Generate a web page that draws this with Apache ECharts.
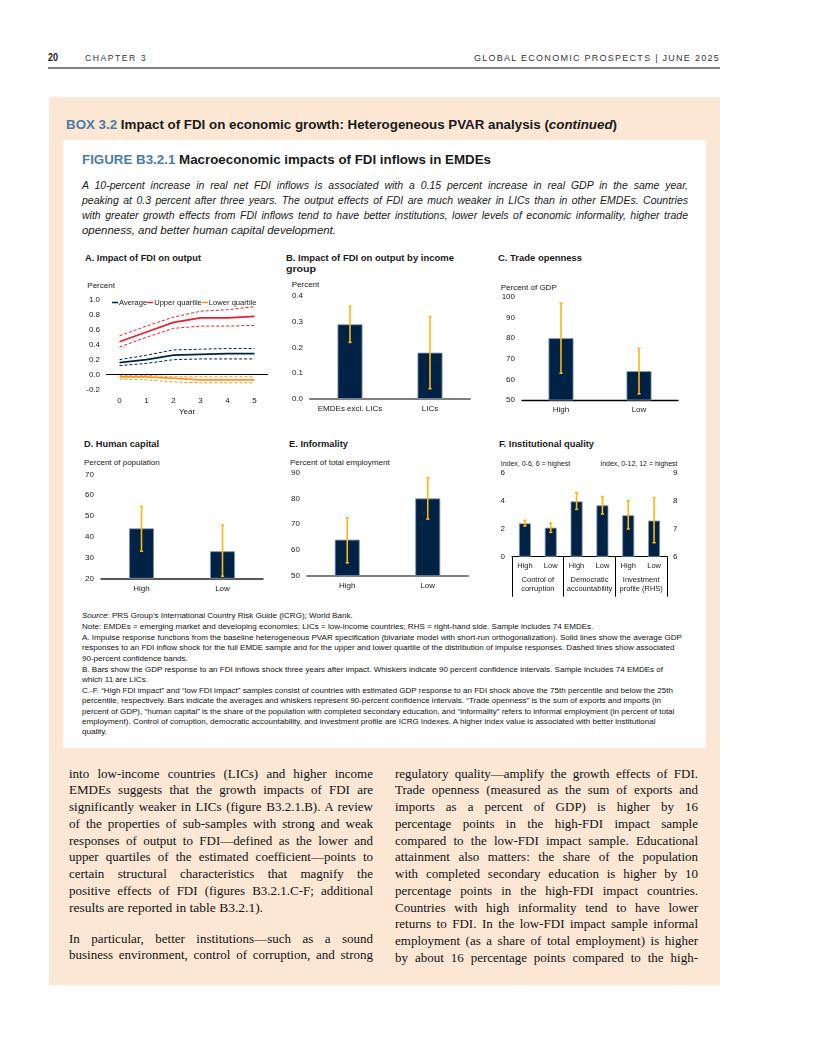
<!DOCTYPE html>
<html><head><meta charset="utf-8">
<script src="https://cdn.jsdelivr.net/npm/echarts@6/dist/echarts.min.js"></script>
<style>
html,body{margin:0;padding:0;background:#fff;}
#page{width:816px;height:1056px;position:relative;overflow:hidden;font-family:'Liberation Sans',Arial,sans-serif;color:#1a1a1a;}
.t{position:absolute;white-space:nowrap;line-height:1;}
#peach{position:absolute;left:49px;top:97px;width:671px;height:888px;background:#FCE7D5;}
#panel{position:absolute;left:63px;top:140px;width:643px;height:608px;background:#fff;}
#rule{position:absolute;left:48px;top:67px;width:672px;height:1.5px;background:#7f7f7f;}
#chart{position:absolute;left:0;top:0;width:816px;height:1056px;z-index:5;}
.blue{color:#4A7BAA;}
</style></head>
<body>
<div id="page">
<div id="peach"></div>
<div id="panel"></div>
<div id="rule"></div>
<div id="chart"></div>
</div>
<script>
// ---------------- DATA ----------------
// Panel A: impulse responses
const aYears = ['0', '1', '2', '3', '4', '5'];
const aAverage   = [0.16, 0.20, 0.26, 0.27, 0.28, 0.28];
const aAverageHi = [0.20, 0.26, 0.33, 0.34, 0.35, 0.35];
const aAverageLo = [0.12, 0.15, 0.20, 0.21, 0.21, 0.21];
const aUpper     = [0.44, 0.57, 0.70, 0.76, 0.76, 0.78];
const aUpperHi   = [0.52, 0.65, 0.77, 0.85, 0.87, 0.91];
const aUpperLo   = [0.37, 0.50, 0.62, 0.65, 0.65, 0.66];
const aLower     = [-0.03, -0.03, -0.05, -0.07, -0.07, -0.07];
const aLowerHi   = [-0.01, -0.01, -0.03, -0.03, -0.03, -0.03];
const aLowerLo   = [-0.06, -0.07, -0.10, -0.11, -0.11, -0.11];
const aLegend = ['Average', 'Upper quartile', 'Lower quartile'];
// Panel B
const bCategories = ['EMDEs excl. LICs', 'LICs'];
const bValues = [0.29, 0.18];
const bLow  = [0.22, 0.04];
const bHigh = [0.36, 0.32];
// Panel C
const cCategories = ['High', 'Low'];
const cValues = [80, 64];
const cLow  = [63, 53];
const cHigh = [97, 75];
// Panel D
const dCategories = ['High', 'Low'];
const dValues = [44, 33];
const dLow  = [33, 21];
const dHigh = [54.5, 45.5];
// Panel E
const eCategories = ['High', 'Low'];
const eValues = [64, 80];
const eLow  = [55, 72];
const eHigh = [72.5, 88];
// Panel F
const fCategories = ['High', 'Low', 'High', 'Low', 'High', 'Low'];
const fGroups = ['Control of\ncorruption', 'Democratic\naccountability', 'Investment\nprofile (RHS)'];
const fLeftValues  = [2.38, 2.07, 3.95, 3.67, '-', '-'];
const fLeftLow     = [2.19, 1.74, 3.38, 3.05];
const fLeftHigh    = [2.60, 2.40, 4.57, 4.29];
const fRightValues = ['-', '-', '-', '-', 7.48, 7.29];
const fRightLow    = [6.99, 6.50];
const fRightHigh   = [8.00, 8.11];

// ---------------- TEXT ----------------
const introLines = [
 'A 10-percent increase in real net FDI inflows is associated with a 0.15 percent increase in real GDP in the same year,',
 'peaking at 0.3 percent after three years. The output effects of FDI are much weaker in LICs than in other EMDEs. Countries',
 'with greater growth effects from FDI inflows tend to have better institutions, lower levels of economic informality, higher trade',
 'openness, and better human capital development.'
];
const noteLines = [
 '<i>Source</i>: PRS Group\u2019s International Country Risk Guide (ICRG); World Bank.',
 'Note: EMDEs = emerging market and developing economies; LICs = low-income countries; RHS = right-hand side. Sample includes 74 EMDEs.',
 'A. Impulse response functions from the baseline heterogeneous PVAR specification (bivariate model with short-run orthogonalization). Solid lines show the average GDP',
 'responses to an FDI inflow shock for the full EMDE sample and for the upper and lower quartile of the distribution of impulse responses. Dashed lines show associated',
 '90-percent confidence bands.',
 'B. Bars show the GDP response to an FDI inflows shock three years after impact. Whiskers indicate 90 percent confidence intervals. Sample includes 74 EMDEs of',
 'which 11 are LICs.',
 'C.-F. \u201cHigh FDI impact\u201d and \u201clow FDI impact\u201d samples consist of countries with estimated GDP response to an FDI shock above the 75th percentile and below the 25th',
 'percentile, respectively. Bars indicate the averages and whiskers represent 90-percent confidence intervals. \u201cTrade openness\u201d is the sum of exports and imports (in',
 'percent of GDP), \u201chuman capital\u201d is the share of the population with completed secondary education, and \u201cinformality\u201d refers to informal employment (in percent of total',
 'employment). Control of corruption, democratic accountability, and investment profile are ICRG indexes. A higher index value is associated with better institutional',
 'quality.'
];
const noteY = [616, 627, 638, 648.5, 659, 670, 680.5, 691, 701.5, 712, 722, 732.5];
const leftBody = [
 'into low-income countries (LICs) and higher income',
 'EMDEs suggests that the growth impacts of FDI are',
 'significantly weaker in LICs (figure B3.2.1.B). A review',
 'of the properties of sub-samples with strong and weak',
 'responses of output to FDI\u2014defined as the lower and',
 'upper quartiles of the estimated coefficient\u2014points to',
 'certain structural characteristics that magnify the',
 'positive effects of FDI (figures B3.2.1.C-F; additional',
 'results are reported in table B3.2.1).'
];
const leftBody2 = [
 'In particular, better institutions\u2014such as a sound',
 'business environment, control of corruption, and strong'
];
const rightBody = [
 'regulatory quality\u2014amplify the growth effects of FDI.',
 'Trade openness (measured as the sum of exports and',
 'imports as a percent of GDP) is higher by 16',
 'percentage points in the high-FDI impact sample',
 'compared to the low-FDI impact sample. Educational',
 'attainment also matters: the share of the population',
 'with completed secondary education is higher by 10',
 'percentage points in the high-FDI impact countries.',
 'Countries with high informality tend to have lower',
 'returns to FDI. In the low-FDI impact sample informal',
 'employment (as a share of total employment) is higher',
 'by about 16 percentage points compared to the high-'
];

// ---------------- HTML TEXT ----------------
const page = document.getElementById('page');
function put(html, x, y, size, o) {
  o = o || {};
  const d = document.createElement('div');
  d.className = 't';
  d.innerHTML = html;
  const s = d.style;
  s.fontSize = size + 'px';
  s.left = x + 'px';
  s.top = (y - size * 0.52) + 'px';
  if (o.bold) s.fontWeight = 'bold';
  if (o.italic) s.fontStyle = 'italic';
  if (o.family) s.fontFamily = o.family;
  if (o.color) s.color = o.color;
  if (o.ls) s.letterSpacing = o.ls + 'px';
  page.appendChild(d);
  const nat = d.getBoundingClientRect().width;
  if (o.w) {
    let done = false;
    if (o.justify) {
      const n = (d.textContent.match(/ /g) || []).length;
      const extra = o.w - nat;
      if (extra >= 0 && n) { s.wordSpacing = (extra / n) + 'px'; done = true; }
    }
    if (!done) {
      s.transformOrigin = '0 50%';
      s.transform = 'scaleX(' + (o.w / nat) + ')';
    }
  }
  if (o.right != null) s.left = (o.right - (o.w || nat)) + 'px';
  return d;
}

// header
put('20', 48, 58, 11, {bold: true, w: 10});
put('CHAPTER 3', 85, 58, 8.5, {ls: 1.5, w: 62, color: '#333'});
put('GLOBAL ECONOMIC PROSPECTS | JUNE 2025', 0, 58, 8.5, {ls: 1.2, w: 246, right: 720, color: '#333'});
// titles
put('<span class="blue">BOX 3.2</span> Impact of FDI on economic growth: Heterogeneous PVAR analysis (<i>continued</i>)', 66, 125, 12.5, {bold: true, w: 551});
put('<span class="blue">FIGURE B3.2.1</span> Macroeconomic impacts of FDI inflows in EMDEs', 82, 160, 12.5, {bold: true, w: 409});
introLines.forEach((t, i) => {
  const last = i === introLines.length - 1;
  put(t, 82, 185 + 15 * i, 10.5, {italic: true, w: last ? 254 : 606, justify: !last});
});
// panel titles
put('A. Impact of FDI on output', 85, 257.5, 9.5, {bold: true, w: 116});
put('B. Impact of FDI on output by income', 286, 257.5, 9.5, {bold: true, w: 168});
put('group', 286, 269, 9.5, {bold: true, w: 30});
put('C. Trade openness', 497.5, 257.5, 9.5, {bold: true, w: 84});
put('D. Human capital', 84, 444, 9.5, {bold: true, w: 75});
put('E. Informality', 289, 444, 9.5, {bold: true, w: 59});
put('F. Institutional quality', 499, 444, 9.5, {bold: true, w: 95});
// unit labels
put('Percent', 87.3, 286, 8);
put('Percent', 291.7, 285, 8);
put('Percent of GDP', 500.7, 287.7, 8);
put('Percent of population', 84, 463.3, 8);
put('Percent of total employment', 290, 462.7, 8);
put('Index, 0-6, 6 = highest', 500.7, 463.3, 7);
put('Index, 0-12, 12 = highest', 0, 463.3, 7, {right: 677.5});
// notes: size calibrated so the long line A spans 82..683
(function () {
  const probe = put(noteLines[2], 0, -100, 10);
  const w10 = probe.getBoundingClientRect().width;
  probe.remove();
  const ns = 10 * 601 / w10;
  noteLines.forEach((t, i) => put(t, 82, noteY[i], ns, {color: '#111'}));
})();
// body text
const serif = "'Liberation Serif','Times New Roman',serif";
leftBody.forEach((t, i) => {
  const last = i === leftBody.length - 1;
  put(t, 69, 773.5 + 16.75 * i, 13, {family: serif, w: last ? 194 : 304, justify: !last, color: '#111'});
});
leftBody2.forEach((t, i) => put(t, 69, 938.3 + 16.75 * i, 13, {family: serif, w: 304, justify: true, color: '#111'}));
rightBody.forEach((t, i) => put(t, 395, 773.5 + 16.75 * i, 13, {family: serif, w: 303, justify: true, color: '#111'}));

// ---------------- CHART ----------------
const NAVY = '#002345', RED = '#EB1C2D', ORANGE = '#F7941D', WHISK = '#FDB714';
const FONT = "'Liberation Sans', Arial, sans-serif";
const TXT = '#1a1a1a';
const chart = echarts.init(document.getElementById('chart'), null, {renderer: 'canvas'});

function whiskerRender(params, api) {
  const x = api.value(0), lo = api.value(1), hi = api.value(2);
  const p1 = api.coord([x, lo]), p2 = api.coord([x, hi]);
  const c = 1.6;
  const st = {stroke: WHISK, lineWidth: 1.6};
  return {type: 'group', children: [
    {type: 'line', shape: {x1: p1[0], y1: p1[1], x2: p2[0], y2: p2[1]}, style: st},
    {type: 'line', shape: {x1: p1[0] - c, y1: p1[1], x2: p1[0] + c, y2: p1[1]}, style: st},
    {type: 'line', shape: {x1: p2[0] - c, y1: p2[1], x2: p2[0] + c, y2: p2[1]}, style: st}
  ]};
}
function whiskers(xi, yi, lows, highs, offset) {
  return {type: 'custom', xAxisIndex: xi, yAxisIndex: yi, z: 10, silent: true,
    renderItem: whiskerRender, encode: {x: 0, y: [1, 2]},
    data: lows.map((l, i) => [i + (offset || 0), l, highs[i]])};
}
function bars(xi, yi, vals, width) {
  return {type: 'bar', xAxisIndex: xi, yAxisIndex: yi, data: vals, barWidth: width, barGap: '-100%',
    itemStyle: {color: NAVY, borderColor: '#8C9BB0', borderWidth: 0.8}, silent: true};
}
function catAxis(gi, data, lineColor, lineWidth, margin) {
  return {type: 'category', gridIndex: gi, data: data, boundaryGap: true,
    axisLine: {show: true, lineStyle: {color: lineColor, width: lineWidth}},
    axisTick: {show: false},
    axisLabel: {interval: 0, margin: margin, fontSize: 8, color: TXT, fontFamily: FONT}};
}
function valAxis(gi, min, max, interval, digits, margin, pos) {
  return {type: 'value', gridIndex: gi, min: min, max: max, interval: interval, position: pos || 'left',
    axisLine: {show: false}, axisTick: {show: false}, splitLine: {show: false},
    axisLabel: {margin: margin, fontSize: 8, color: TXT, fontFamily: FONT,
      formatter: v => v.toFixed(digits)}};
}
function line(name, data, color, dashed) {
  return {type: 'line', name: name, xAxisIndex: 0, yAxisIndex: 0, data: data, symbol: 'none',
    silent: true, z: dashed ? 2 : 3,
    lineStyle: {color: color, width: dashed ? 1 : 1.7, type: dashed ? [3, 2] : 'solid'},
    itemStyle: {color: color}};
}

const avgSeries = line('Average', aAverage, NAVY, false);
avgSeries.markLine = {silent: true, symbol: 'none', label: {show: false},
  lineStyle: {color: '#000', width: 1.2, type: 'solid'}, data: [{yAxis: 0}]};

const fGroupAxis = {type: 'category', gridIndex: 5, data: fGroups, position: 'bottom', boundaryGap: true,
  axisLine: {show: false},
  axisTick: {show: true, length: 40, lineStyle: {color: '#000', width: 1}},
  axisLabel: {interval: 0, margin: 18, fontSize: 7.5, lineHeight: 9.5, color: TXT, fontFamily: FONT}};
const fCatAxis = catAxis(5, fCategories, '#000', 1.2, 5);
fCatAxis.axisLabel.fontSize = 7.5;

const aX = {type: 'category', gridIndex: 0, data: aYears, boundaryGap: true,
  axisLine: {show: false}, axisTick: {show: false},
  axisLabel: {margin: 7, fontSize: 8, color: TXT, fontFamily: FONT},
  name: 'Year', nameLocation: 'middle', nameGap: 18,
  nameTextStyle: {fontSize: 8, color: TXT, fontFamily: FONT}};

const option = {
  animation: false,
  textStyle: {fontFamily: FONT},
  legend: {data: aLegend, left: 107, top: 293.5, itemWidth: 6, itemHeight: 1.5, itemGap: 0,
    icon: 'rect', selectedMode: false,
    textStyle: {fontSize: 7.6, color: TXT, fontFamily: FONT, padding: [0, 0, 0, -4]}},
  grid: [
    {left: 106, top: 300, width: 162, height: 89.5},
    {left: 310, top: 296, width: 160, height: 103},
    {left: 522, top: 297, width: 156, height: 103},
    {left: 101, top: 474.3, width: 162, height: 104},
    {left: 307, top: 472.7, width: 161, height: 103},
    {left: 512, top: 472.7, width: 155, height: 84}
  ],
  xAxis: [
    aX,
    catAxis(1, bCategories, '#7f7f7f', 2, 6),
    catAxis(2, cCategories, '#000', 1.3, 6),
    catAxis(3, dCategories, '#222', 1.5, 6),
    catAxis(4, eCategories, '#7f7f7f', 2, 6),
    fCatAxis,
    fGroupAxis
  ],
  yAxis: [
    valAxis(0, -0.2, 1.0, 0.2, 1, 6),
    valAxis(1, 0, 0.4, 0.1, 1, 7),
    valAxis(2, 50, 100, 10, 0, 7),
    valAxis(3, 20, 70, 10, 0, 7),
    valAxis(4, 50, 90, 10, 0, 7),
    valAxis(5, 0, 6, 2, 0, 7),
    valAxis(5, 6, 9, 1, 0, 6, 'right')
  ],
  series: [
    line('Average hi', aAverageHi, NAVY, true),
    line('Average lo', aAverageLo, NAVY, true),
    line('Upper hi', aUpperHi, RED, true),
    line('Upper lo', aUpperLo, RED, true),
    line('Lower hi', aLowerHi, ORANGE, true),
    line('Lower lo', aLowerLo, ORANGE, true),
    avgSeries,
    line('Upper quartile', aUpper, RED, false),
    line('Lower quartile', aLower, ORANGE, false),

    bars(1, 1, bValues, 25), whiskers(1, 1, bLow, bHigh),
    bars(2, 2, cValues, 25), whiskers(2, 2, cLow, cHigh),
    bars(3, 3, dValues, 25), whiskers(3, 3, dLow, dHigh),
    bars(4, 4, eValues, 25), whiskers(4, 4, eLow, eHigh),
    bars(5, 5, fLeftValues, 12), whiskers(5, 5, fLeftLow, fLeftHigh, 0),
    bars(5, 6, fRightValues, 12), whiskers(5, 6, fRightLow, fRightHigh, 4)
  ]
};
chart.setOption(option);
</script>
</body></html>
